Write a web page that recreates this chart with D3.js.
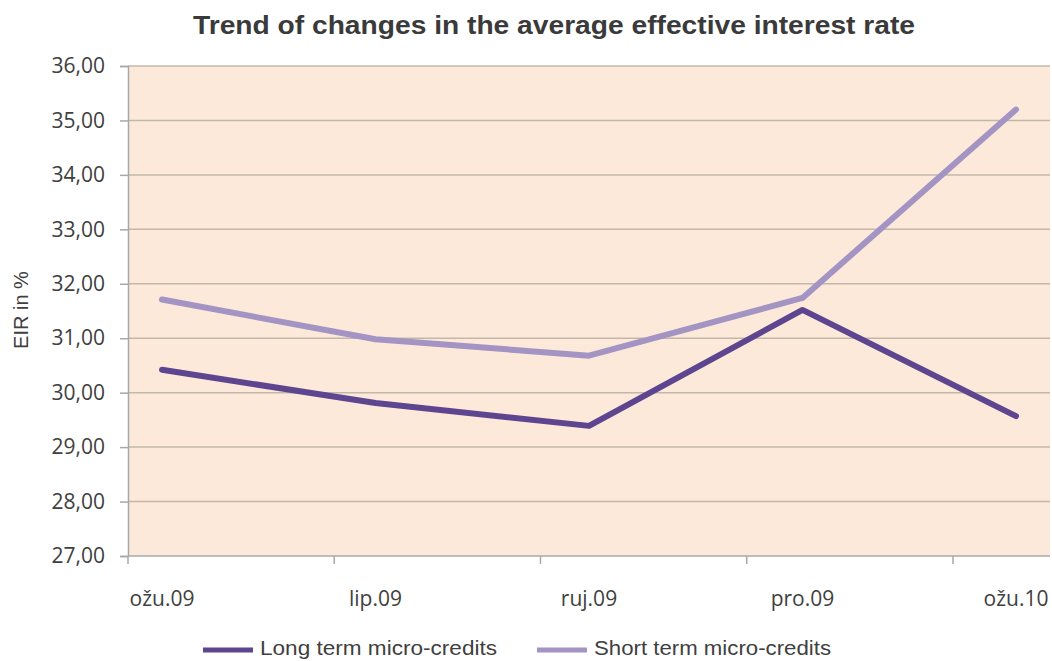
<!DOCTYPE html>
<html>
<head>
<meta charset="utf-8">
<script src="https://cdn.jsdelivr.net/npm/d3@7/dist/d3.min.js"></script>
<style>
  html, body { margin: 0; padding: 0; background: #fff; }
  svg { display: block; }
</style>
</head>
<body>
<svg id="chart" width="1052" height="661"></svg>
<script>
// Quarterly periods
const categories = ["ožu.09", "lip.09", "ruj.09", "pro.09", "ožu.10"];
// Average effective interest rate (%)
const longTerm  = [30.42, 29.81, 29.39, 31.52, 29.57];
const shortTerm = [31.71, 30.98, 30.68, 31.74, 35.20];
const yTicks = [27, 28, 29, 30, 31, 32, 33, 34, 35, 36];
const seriesNames = ["Long term micro-credits", "Short term micro-credits"];
const seriesColors = ["#5e4590", "#a394c4"];

const svg = d3.select("#chart");
const plot = { left: 128, right: 1050, top: 66, bottom: 556 };

const y = d3.scaleLinear().domain([27, 36]).range([plot.bottom, plot.top]);
const x = d3.scalePoint().domain(categories).range([162, 1016]);
const tickX = d3.scalePoint().domain(categories).range([128, 953]);

const fmt = v => d3.format(".2f")(v).replace(".", ",");
const tickFont = "'Open Sans', 'DejaVu Sans', sans-serif";

// Plot background
svg.append("rect")
  .attr("x", plot.left).attr("y", plot.top)
  .attr("width", plot.right - plot.left).attr("height", plot.bottom - plot.top)
  .attr("fill", "#fce9da");

// Horizontal gridlines
svg.append("g").selectAll("line").data(yTicks.filter(d => d > 27)).join("line")
  .attr("x1", plot.left).attr("x2", plot.right)
  .attr("y1", d => y(d)).attr("y2", d => y(d))
  .attr("stroke", "#c2b8aa").attr("stroke-width", 1.5);

// Y axis
const yAxis = svg.append("g")
  .attr("transform", `translate(${plot.left},0)`)
  .call(d3.axisLeft(y).tickValues(yTicks).tickFormat(fmt).tickSize(8).tickPadding(15));
yAxis.select(".domain").attr("stroke", "#a8a8a8").attr("stroke-width", 1.5);
yAxis.selectAll(".tick line").attr("stroke", "#a8a8a8").attr("stroke-width", 1.5);
yAxis.selectAll(".tick text")
  .attr("fill", "#404040")
  .style("font-family", tickFont)
  .style("font-size", "21px");

// X axis line and ticks
svg.append("line")
  .attr("x1", plot.left).attr("x2", plot.right)
  .attr("y1", plot.bottom).attr("y2", plot.bottom)
  .attr("stroke", "#a8a8a8").attr("stroke-width", 1.5);
svg.append("g").selectAll("line").data(categories).join("line")
  .attr("x1", d => tickX(d)).attr("x2", d => tickX(d))
  .attr("y1", plot.bottom).attr("y2", plot.bottom + 8)
  .attr("stroke", "#a8a8a8").attr("stroke-width", 1.5);
svg.append("g").selectAll("text").data(categories).join("text")
  .attr("x", d => x(d)).attr("y", 606)
  .attr("text-anchor", "middle")
  .attr("fill", "#404040")
  .style("font-family", tickFont)
  .style("font-size", "21px")
  .text(d => d);

// Y axis title
svg.append("text")
  .attr("transform", "translate(28,310) rotate(-90)")
  .attr("text-anchor", "middle")
  .attr("fill", "#404040")
  .style("font-family", "'Liberation Sans', Arial, sans-serif")
  .style("font-size", "20px")
  .text("EIR in %");

// Chart title
svg.append("text")
  .attr("x", 554).attr("y", 34)
  .attr("text-anchor", "middle")
  .attr("fill", "#3a3a3a")
  .attr("textLength", 722)
  .attr("lengthAdjust", "spacingAndGlyphs")
  .style("font-family", "'Liberation Sans', Arial, sans-serif")
  .style("font-weight", "bold")
  .style("font-size", "26px")
  .text("Trend of changes in the average effective interest rate");

// Series lines
const line = d3.line().x((d, i) => x(categories[i])).y(d => y(d));
[longTerm, shortTerm].forEach((vals, k) => {
  svg.append("path")
    .datum(vals)
    .attr("d", line)
    .attr("fill", "none")
    .attr("stroke", seriesColors[k])
    .attr("stroke-width", 6)
    .attr("stroke-linejoin", "round")
    .attr("stroke-linecap", "round");
});

// Legend
const legendX = [203, 537];
seriesNames.forEach((name, k) => {
  const g = svg.append("g").attr("transform", `translate(${legendX[k]},650)`);
  g.append("line").attr("x1", 0).attr("x2", 50).attr("y1", 0).attr("y2", 0)
    .attr("stroke", seriesColors[k]).attr("stroke-width", 5);
  g.append("text").attr("x", 57).attr("y", 5)
    .attr("fill", "#404040")
    .attr("textLength", 237)
    .attr("lengthAdjust", "spacingAndGlyphs")
    .style("font-family", "'Liberation Sans', Arial, sans-serif")
    .style("font-size", "20px")
    .text(name);
});
</script>
</body>
</html>
